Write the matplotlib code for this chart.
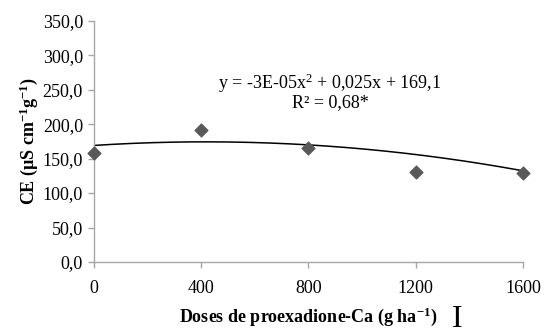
import numpy as np
import matplotlib.pyplot as plt

plt.rcParams['font.family'] = ['Liberation Serif', 'DejaVu Serif']
plt.rcParams['mathtext.fontset'] = 'custom'
plt.rcParams['mathtext.rm'] = 'Liberation Serif'
plt.rcParams['mathtext.it'] = 'Liberation Serif:italic'
plt.rcParams['mathtext.bf'] = 'Liberation Serif:bold'

doses = [0, 400, 800, 1200, 1600]
ce = [158.8, 192.0, 166.0, 130.7, 129.8]
coef = [-3e-05, 0.025, 169.1]  # quadratic fit
yticks = [0, 50, 100, 150, 200, 250, 300, 350]
xticks = [0, 400, 800, 1200, 1600]

fig = plt.figure(figsize=(5.45, 3.35), dpi=100)
ax = fig.add_axes([0.1725, 0.218, 0.7871, 0.720])

xs = np.linspace(doses[0], doses[-1], 200)
ax.plot(xs, np.polyval(coef, xs), color='black', lw=1.1, zorder=2)
ax.scatter(doses, ce, marker='D', s=42, color='#595959', zorder=3, clip_on=False)

ax.set_xlim(0, 1600)
ax.set_ylim(0, 350)
ax.set_xticks(xticks)
ax.set_yticks(yticks)
ax.set_yticklabels([f"{v:.1f}".replace('.', ',') for v in yticks])
ax.tick_params(axis='both', labelsize=13, color='#a6a6a6', length=4, width=1)
ax.tick_params(axis='y', pad=4)
ax.tick_params(axis='x', pad=9)
for side in ['top', 'right']:
    ax.spines[side].set_visible(False)
for side in ['left', 'bottom']:
    ax.spines[side].set_color('#a6a6a6')
    ax.spines[side].set_linewidth(1)

ax.set_ylabel(r'CE (µS cm$^{\mathbf{-1}}$g$^{\mathbf{-1}}$)', fontsize=13, fontweight='bold', labelpad=2)
ax.set_xlabel(r'Doses de proexadione-Ca (g ha$^{\mathbf{-1}}$)', fontsize=13, fontweight='bold', labelpad=6)

fig.text(330 / 545, 1 - 83 / 335, 'y = -3E-05x$^{2}$ + 0,025x + 169,1', ha='center', va='center', fontsize=13)
fig.text(330 / 545, 1 - 103 / 335, 'R² = 0,68*', ha='center', va='center', fontsize=13)
fig.text(457 / 545, 1 - 334 / 335, 'I', ha='center', va='bottom', fontsize=23)

fig.savefig('out.png', dpi=100)
